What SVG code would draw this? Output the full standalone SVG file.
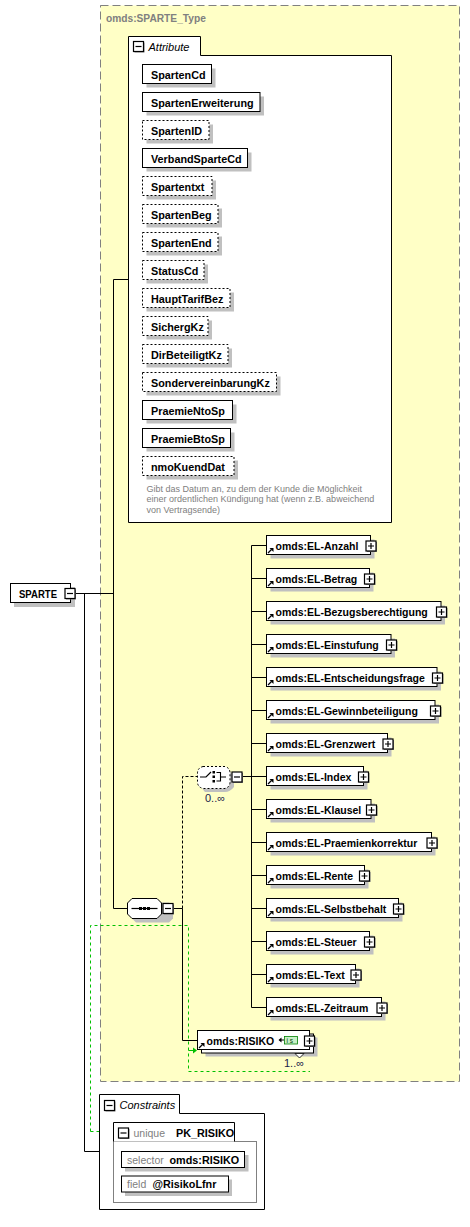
<svg xmlns="http://www.w3.org/2000/svg" xmlns:xlink="http://www.w3.org/1999/xlink" width="470" height="1227" viewBox="0 0 470 1227">
<style>
.box{fill:#fff;stroke:#000;stroke-width:1}
.opt{fill:#fff;stroke:#000;stroke-width:1;stroke-dasharray:2 2}
.sh{fill:#c0c0c0;stroke:none}
.b{font-family:"Liberation Sans",Arial,sans-serif;font-weight:bold;font-size:10.8px;fill:#000}
.e{font-family:"Liberation Sans",Arial,sans-serif;font-weight:bold;font-size:10.5px;fill:#000}
.g{font-family:"Liberation Sans",Arial,sans-serif;font-size:10.5px;fill:#808080}
.doc{font-family:"Liberation Sans",Arial,sans-serif;font-size:9px;fill:#808080}
.it{font-family:"Liberation Sans",Arial,sans-serif;font-style:italic;font-size:11px;fill:#000}
.occ{font-family:"Liberation Sans",Arial,sans-serif;font-size:11px;fill:#1a1a4a}
.ln{fill:none;stroke:#000;stroke-width:1}
.dl{fill:none;stroke:#000;stroke-width:1;stroke-dasharray:3 2}
.gl{fill:none;stroke:#00c000;stroke-width:1;stroke-dasharray:3 3}
</style>
<defs>
<g id="plus">
<rect x="1.5" y="1.5" width="10" height="10" fill="#808080"/>
<rect x="0.5" y="0.5" width="10" height="10" fill="#fff" stroke="#000" stroke-width="1.2"/>
<path d="M2.5,5.5 H8.5 M5.5,2.5 V8.5" stroke="#000" stroke-width="1.2"/>
</g>
<g id="minus">
<rect x="1.5" y="1.5" width="10" height="10" fill="#808080"/>
<rect x="0.5" y="0.5" width="10" height="10" fill="#fff" stroke="#000" stroke-width="1.2"/>
<path d="M2.5,5.5 H8.5" stroke="#000" stroke-width="1.2"/>
</g>
<g id="ref">
<path d="M2,18 L5.5,14.5" stroke="#000" stroke-width="1.3"/>
<polygon points="3.5,13 7.5,13 7.5,17" fill="#000"/>
</g>
</defs>

<g id="type-box">
<rect x="100.5" y="5.5" width="359" height="1076" fill="#FFFFC6" stroke="#808080" stroke-width="1" stroke-dasharray="8 4"/>
<text x="106" y="21.5" font-family="Liberation Sans,Arial,sans-serif" font-weight="bold" font-size="10.2px" fill="#808080">omds:SPARTE_Type</text>
</g>

<g id="connectors">
<path class="ln" d="M75,593.5 H113.5"/>
<path class="ln" d="M84.5,593.5 V1151.5 H99.5"/>
<path class="ln" d="M128.5,279.5 H113.5 V908.5 H128"/>
<path class="ln" d="M173.5,908.5 H182.5 V1040.5 H197.5"/>
<path class="dl" d="M182.5,908.5 V776.5 H197.5"/>
<path class="ln" d="M242,776.5 H251.5"/>
<path class="ln" d="M251.5,545.5 V1007.5"/>
<path class="ln" d="M251.5,545.5 H266 M251.5,578.5 H266 M251.5,611.5 H266 M251.5,644.5 H266 M251.5,677.5 H266 M251.5,710.5 H266 M251.5,743.5 H266 M251.5,776.5 H266 M251.5,809.5 H266 M251.5,842.5 H266 M251.5,875.5 H266 M251.5,908.5 H266 M251.5,941.5 H266 M251.5,974.5 H266 M251.5,1007.5 H266"/>
<path class="gl" d="M90.5,1131.5 V925.5 H188.5 V1071.5 H310"/>
<path class="gl" d="M90.5,1131.5 H113"/>
<path d="M188.5,1050.5 H193" stroke="#00c000" stroke-width="1"/>
<polygon points="193,1047.5 197,1050.5 193,1053.5" fill="#00c000"/>
</g>

<g id="sparte">
<rect class="sh" x="14" y="587" width="61" height="20"/>
<rect class="box" x="10.5" y="583.5" width="60" height="19"/>
<text class="b" x="19" y="598" textLength="38" lengthAdjust="spacingAndGlyphs">SPARTE</text>
<use xlink:href="#minus" x="64.5" y="588"/>
</g>

<g id="attributes">
<path d="M128.5,522.5 V36.5 H200.5 V55.5 H391.5 V522.5 Z" fill="#fff" stroke="#000" stroke-width="1"/>
<use xlink:href="#minus" x="133" y="41"/>
<text class="it" x="148.5" y="50.5">Attribute</text>
</g>

<g id="attr-spartencd"><rect class="sh" x="146.5" y="68.5" width="69" height="19"/><rect class="box" x="142.5" y="64.5" width="69" height="19"/><text class="b" x="151" y="79">SpartenCd</text></g>
<g id="attr-spartenerweiterung"><rect class="sh" x="146.5" y="96.5" width="117.5" height="19"/><rect class="box" x="142.5" y="92.5" width="117.5" height="19"/><text class="b" x="151" y="107">SpartenErweiterung</text></g>
<g id="attr-spartenid"><rect class="sh" x="146.5" y="124.5" width="66.5" height="19"/><rect class="opt" x="142.5" y="120.5" width="66.5" height="19"/><text class="b" x="151" y="135">SpartenID</text></g>
<g id="attr-verbandspartecd"><rect class="sh" x="146.5" y="152.5" width="105" height="19"/><rect class="box" x="142.5" y="148.5" width="105" height="19"/><text class="b" x="151" y="163">VerbandSparteCd</text></g>
<g id="attr-spartentxt"><rect class="sh" x="146.5" y="180.5" width="69.5" height="19"/><rect class="opt" x="142.5" y="176.5" width="69.5" height="19"/><text class="b" x="151" y="191">Spartentxt</text></g>
<g id="attr-spartenbeg"><rect class="sh" x="146.5" y="208.5" width="75.5" height="19"/><rect class="opt" x="142.5" y="204.5" width="75.5" height="19"/><text class="b" x="151" y="219">SpartenBeg</text></g>
<g id="attr-spartenend"><rect class="sh" x="146.5" y="236.5" width="75.5" height="19"/><rect class="opt" x="142.5" y="232.5" width="75.5" height="19"/><text class="b" x="151" y="247">SpartenEnd</text></g>
<g id="attr-statuscd"><rect class="sh" x="146.5" y="264.5" width="61.5" height="19"/><rect class="opt" x="142.5" y="260.5" width="61.5" height="19"/><text class="b" x="151" y="275">StatusCd</text></g>
<g id="attr-haupttarifbez"><rect class="sh" x="146.5" y="292.5" width="87.5" height="19"/><rect class="opt" x="142.5" y="288.5" width="87.5" height="19"/><text class="b" x="151" y="303">HauptTarifBez</text></g>
<g id="attr-sichergkz"><rect class="sh" x="146.5" y="320.5" width="65.5" height="19"/><rect class="opt" x="142.5" y="316.5" width="65.5" height="19"/><text class="b" x="151" y="331">SichergKz</text></g>
<g id="attr-dirbeteiligtkz"><rect class="sh" x="146.5" y="348.5" width="85.5" height="19"/><rect class="opt" x="142.5" y="344.5" width="85.5" height="19"/><text class="b" x="151" y="359">DirBeteiligtKz</text></g>
<g id="attr-sondervereinbarungkz"><rect class="sh" x="146.5" y="376.5" width="134" height="19"/><rect class="opt" x="142.5" y="372.5" width="134" height="19"/><text class="b" x="151" y="387">SondervereinbarungKz</text></g>
<g id="attr-praemientosp"><rect class="sh" x="146.5" y="404.5" width="90" height="19"/><rect class="box" x="142.5" y="400.5" width="90" height="19"/><text class="b" x="151" y="415">PraemieNtoSp</text></g>
<g id="attr-praemiebtosp"><rect class="sh" x="146.5" y="432.5" width="88" height="19"/><rect class="box" x="142.5" y="428.5" width="88" height="19"/><text class="b" x="151" y="443">PraemieBtoSp</text></g>
<g id="attr-nmokuenddat"><rect class="sh" x="146.5" y="460.5" width="91.5" height="19"/><rect class="opt" x="142.5" y="456.5" width="91.5" height="19"/><text class="b" x="151" y="471">nmoKuendDat</text>
<text class="doc" x="146.5" y="491.5">Gibt das Datum an, zu dem der Kunde die Möglichkeit</text>
<text class="doc" x="146.5" y="502">einer ordentlichen Kündigung hat (wenn z.B. abweichend</text>
<text class="doc" x="146.5" y="512.5">von Vertragsende)</text>
</g>

<g id="sequence">
<path d="M136,902.5 H169 L173,906.5 V918.5 L169,922.5 H136 L132,918.5 V906.5 Z" fill="#c0c0c0"/>
<path d="M132,898.5 H157 L161.5,903 V914 L157,918.5 H132 L127.5,914 V903 Z" fill="#fff" stroke="#000" stroke-width="1"/>
<path d="M131.5,908.5 H157.5" stroke="#000" stroke-width="1.2"/>
<rect x="139" y="907" width="3" height="3" fill="#000"/>
<rect x="143" y="907" width="3" height="3" fill="#000"/>
<rect x="147" y="907" width="3" height="3" fill="#000"/>
<use xlink:href="#minus" x="162.5" y="903"/>
</g>

<g id="choice">
<path d="M205,770.5 H229 Q234,775 234,781 V787 Q230,792 225,792 H205 Q201,788 201,783 Z" fill="#c0c0c0"/>
<path d="M203,766.5 H225 Q230,768 230,773 V782 Q230,787 225,788.5 H203 Q197.5,787 197.5,782 V773 Q197.5,768 203,766.5 Z" fill="#fff" stroke="#000" stroke-width="1" stroke-dasharray="2 2"/>
<path d="M200,777 H206 L211,772" fill="none" stroke="#000" stroke-width="1.2"/>
<rect x="212.5" y="771" width="2.5" height="2.5" fill="#000"/>
<rect x="212.5" y="775.5" width="2.5" height="2.5" fill="#000"/>
<rect x="212.5" y="780" width="2.5" height="2.5" fill="#000"/>
<path d="M216.5,772.5 H220.5 V781 H216.5 M220.5,777 H226" fill="none" stroke="#000" stroke-width="1.1"/>
<use xlink:href="#minus" x="231.5" y="771.5"/>
<text class="occ" x="205" y="802">0..∞</text>
</g>

<g id="el-anzahl"><rect class="sh" x="270.5" y="539.5" width="104" height="19"/><rect class="box" x="266.5" y="535.5" width="104" height="19"/><use xlink:href="#ref" x="266" y="535"/><text class="e" x="275.5" y="550">omds:EL-Anzahl</text><use xlink:href="#plus" x="365.5" y="540.5"/></g>
<g id="el-betrag"><rect class="sh" x="270.5" y="572.5" width="103" height="19"/><rect class="box" x="266.5" y="568.5" width="103" height="19"/><use xlink:href="#ref" x="266" y="568"/><text class="e" x="275.5" y="583">omds:EL-Betrag</text><use xlink:href="#plus" x="364" y="573.5"/></g>
<g id="el-bezugsberechtigung"><rect class="sh" x="270.5" y="605.5" width="174.5" height="19"/><rect class="box" x="266.5" y="601.5" width="174.5" height="19"/><use xlink:href="#ref" x="266" y="601"/><text class="e" x="275.5" y="616">omds:EL-Bezugsberechtigung</text><use xlink:href="#plus" x="436" y="606.5"/></g>
<g id="el-einstufung"><rect class="sh" x="270.5" y="638.5" width="124.5" height="19"/><rect class="box" x="266.5" y="634.5" width="124.5" height="19"/><use xlink:href="#ref" x="266" y="634"/><text class="e" x="275.5" y="649">omds:EL-Einstufung</text><use xlink:href="#plus" x="386" y="639.5"/></g>
<g id="el-entscheidungsfrage"><rect class="sh" x="270.5" y="671.5" width="170.5" height="19"/><rect class="box" x="266.5" y="667.5" width="170.5" height="19"/><use xlink:href="#ref" x="266" y="667"/><text class="e" x="275.5" y="682">omds:EL-Entscheidungsfrage</text><use xlink:href="#plus" x="432" y="672.5"/></g>
<g id="el-gewinnbeteiligung"><rect class="sh" x="270.5" y="704.5" width="168.5" height="19"/><rect class="box" x="266.5" y="700.5" width="168.5" height="19"/><use xlink:href="#ref" x="266" y="700"/><text class="e" x="275.5" y="715">omds:EL-Gewinnbeteiligung</text><use xlink:href="#plus" x="430" y="705.5"/></g>
<g id="el-grenzwert"><rect class="sh" x="270.5" y="737.5" width="121" height="19"/><rect class="box" x="266.5" y="733.5" width="121" height="19"/><use xlink:href="#ref" x="266" y="733"/><text class="e" x="275.5" y="748">omds:EL-Grenzwert</text><use xlink:href="#plus" x="382.5" y="738.5"/></g>
<g id="el-index"><rect class="sh" x="270.5" y="770.5" width="97" height="19"/><rect class="box" x="266.5" y="766.5" width="97" height="19"/><use xlink:href="#ref" x="266" y="766"/><text class="e" x="275.5" y="781">omds:EL-Index</text><use xlink:href="#plus" x="358" y="771.5"/></g>
<g id="el-klausel"><rect class="sh" x="270.5" y="803.5" width="104.5" height="19"/><rect class="box" x="266.5" y="799.5" width="104.5" height="19"/><use xlink:href="#ref" x="266" y="799"/><text class="e" x="275.5" y="814">omds:EL-Klausel</text><use xlink:href="#plus" x="366" y="804.5"/></g>
<g id="el-praemienkorrektur"><rect class="sh" x="270.5" y="836.5" width="165" height="19"/><rect class="box" x="266.5" y="832.5" width="165" height="19"/><use xlink:href="#ref" x="266" y="832"/><text class="e" x="275.5" y="847">omds:EL-Praemienkorrektur</text><use xlink:href="#plus" x="426.5" y="837.5"/></g>
<g id="el-rente"><rect class="sh" x="270.5" y="869.5" width="98" height="19"/><rect class="box" x="266.5" y="865.5" width="98" height="19"/><use xlink:href="#ref" x="266" y="865"/><text class="e" x="275.5" y="880">omds:EL-Rente</text><use xlink:href="#plus" x="359" y="870.5"/></g>
<g id="el-selbstbehalt"><rect class="sh" x="270.5" y="902.5" width="132" height="19"/><rect class="box" x="266.5" y="898.5" width="132" height="19"/><use xlink:href="#ref" x="266" y="898"/><text class="e" x="275.5" y="913">omds:EL-Selbstbehalt</text><use xlink:href="#plus" x="393" y="903.5"/></g>
<g id="el-steuer"><rect class="sh" x="270.5" y="935.5" width="103" height="19"/><rect class="box" x="266.5" y="931.5" width="103" height="19"/><use xlink:href="#ref" x="266" y="931"/><text class="e" x="275.5" y="946">omds:EL-Steuer</text><use xlink:href="#plus" x="364" y="936.5"/></g>
<g id="el-text"><rect class="sh" x="270.5" y="968.5" width="89" height="19"/><rect class="box" x="266.5" y="964.5" width="89" height="19"/><use xlink:href="#ref" x="266" y="964"/><text class="e" x="275.5" y="979">omds:EL-Text</text><use xlink:href="#plus" x="350.5" y="969.5"/></g>
<g id="el-zeitraum"><rect class="sh" x="270.5" y="1001.5" width="115" height="19"/><rect class="box" x="266.5" y="997.5" width="115" height="19"/><use xlink:href="#ref" x="266" y="997"/><text class="e" x="275.5" y="1012">omds:EL-Zeitraum</text><use xlink:href="#plus" x="376.5" y="1002.5"/></g>

<g id="risiko">
<rect class="sh" x="205.5" y="1037.5" width="112" height="19"/>
<rect class="box" x="201.5" y="1034" width="112" height="19"/>
<rect class="box" x="197.5" y="1030.5" width="112" height="19"/>
<use xlink:href="#ref" x="197" y="1030"/>
<text class="e" x="206.5" y="1045">omds:RISIKO</text>
<path d="M279.5,1040 H284" stroke="#000" stroke-width="1"/>
<polygon points="278.5,1040 281.5,1037.5 281.5,1042.5" fill="#000"/>
<rect x="284.5" y="1036.5" width="13" height="7.5" fill="#c8f0c8" stroke="#008000" stroke-width="0.8"/>
<text x="286.5" y="1043" font-family="Liberation Sans,Arial,sans-serif" font-size="6.5px" fill="#004000">i s</text>
<use xlink:href="#plus" x="304" y="1035.5"/>
<polygon points="295,1053.5 304,1053.5 299.5,1058" fill="#fff" stroke="#000" stroke-width="0.8"/>
<text class="occ" x="284" y="1067">1..∞</text>
</g>

<g id="constraints">
<path d="M99.5,1209.5 V1094.5 H179.5 V1113.5 H264.5 V1209.5 Z" fill="#fff" stroke="#000" stroke-width="1"/>
<use xlink:href="#minus" x="104" y="1100"/>
<text class="it" x="119.5" y="1108.5">Constraints</text>
</g>

<g id="unique-pk-risiko">
<rect x="113.5" y="1141.5" width="143" height="61" fill="#fff" stroke="#808080" stroke-width="1"/>
<path d="M113.5,1141.5 V1122.5 H234.5 V1141.5" fill="#fff" stroke="#000" stroke-width="1"/>
<use xlink:href="#minus" x="118" y="1127.5"/>
<text class="g" x="133.5" y="1137">unique</text>
<text class="b" x="176" y="1137">PK_RISIKO</text>
</g>

<g id="selector">
<rect class="sh" x="125" y="1155" width="123.5" height="16.5"/>
<rect class="box" x="121.5" y="1151.5" width="123" height="16"/>
<text class="g" x="127" y="1163.5">selector</text>
<text class="b" x="169.5" y="1163.5">omds:RISIKO</text>
</g>

<g id="field">
<rect class="sh" x="125" y="1179.5" width="107" height="16.5"/>
<rect class="box" x="121.5" y="1176" width="107" height="16"/>
<text class="g" x="127" y="1188">field</text>
<text class="b" x="152.5" y="1188">@RisikoLfnr</text>
</g>
</svg>
